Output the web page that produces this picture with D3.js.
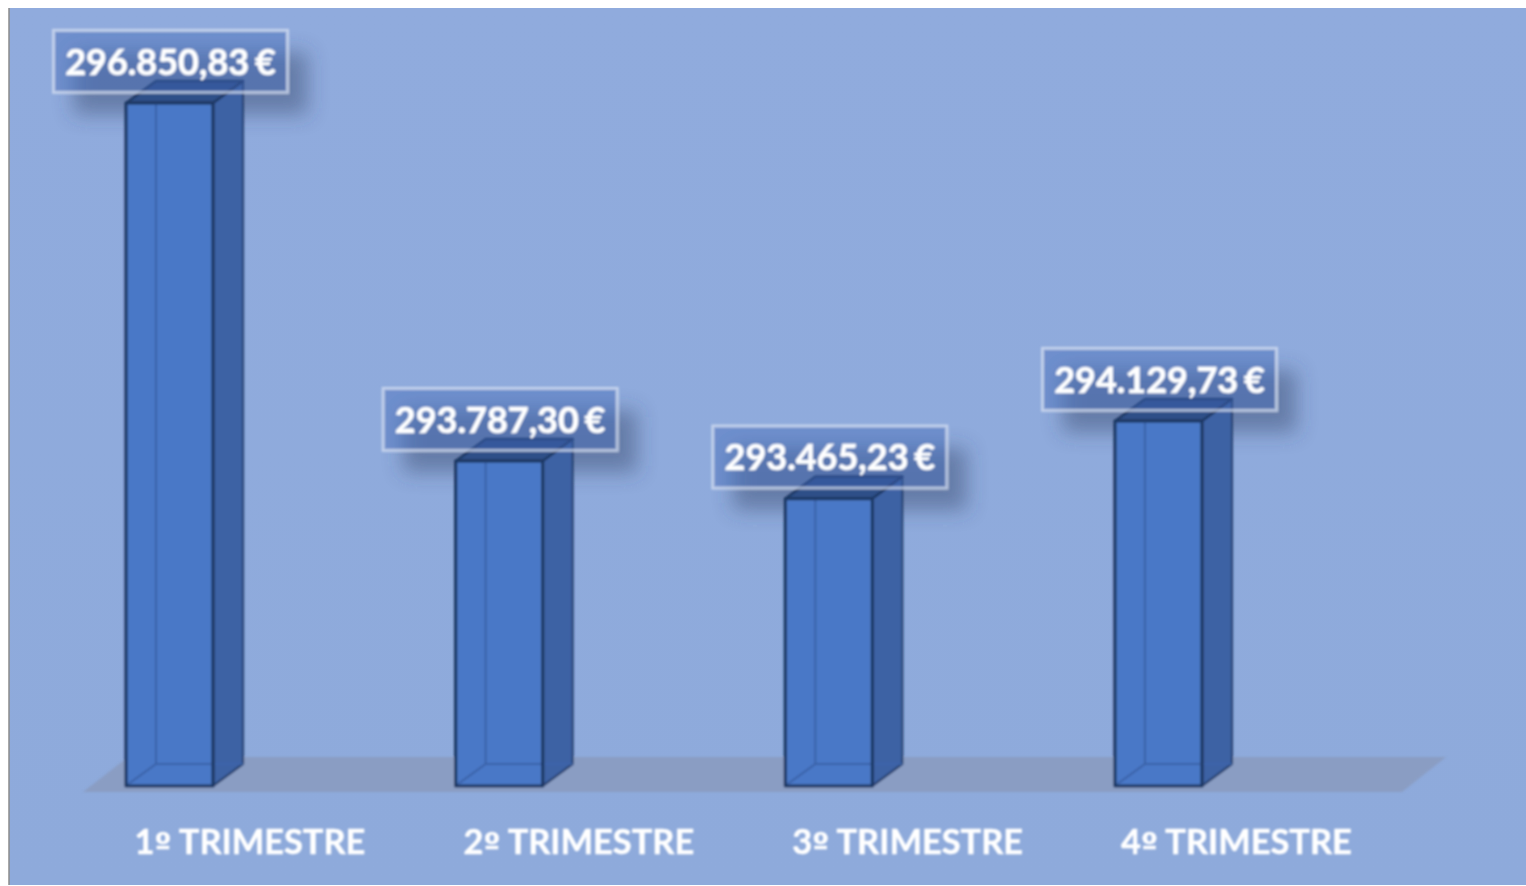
<!DOCTYPE html>
<html><head><meta charset="utf-8">
<script src="https://cdn.jsdelivr.net/npm/d3@7"></script>
<style>html,body{margin:0;padding:0;background:#fff;overflow:hidden}svg{display:block}</style>
</head><body><svg id="c" width="1526" height="886"></svg>
<script>
const categories = ["1º TRIMESTRE","2º TRIMESTRE","3º TRIMESTRE","4º TRIMESTRE"];
const values = [296850.83,293787.30,293465.23,294129.73];
const valueLabels = ["296.850,83 €","293.787,30 €","293.465,23 €","294.129,73 €"];

const svg = d3.select("#c");
const font = "Lato, 'Open Sans', sans-serif";
const defs = svg.append("defs");
const soft = defs.append("filter").attr("id","soft").attr("x","-2%").attr("y","-2%").attr("width","104%").attr("height","104%");
soft.append("feGaussianBlur").attr("stdDeviation",0.8);
const shadow = defs.append("filter").attr("id","shadow").attr("x","-30%").attr("y","-60%").attr("width","160%").attr("height","220%");
shadow.append("feGaussianBlur").attr("stdDeviation",10);
const bg = defs.append("linearGradient").attr("id","bg").attr("x1",0).attr("x2",0).attr("y1",0).attr("y2",1);
bg.append("stop").attr("offset",0).attr("stop-color","#90abdd");
bg.append("stop").attr("offset",1).attr("stop-color","#8eaadb");

svg.append("rect").attr("x",9).attr("y",8).attr("width",1517).attr("height",877).attr("fill","url(#bg)");
svg.append("line").attr("x1",9).attr("x2",9).attr("y1",8).attr("y2",885).attr("stroke","#8b8b8b").attr("stroke-width",1.5);
const root = svg.append("g").attr("filter","url(#soft)");

const y = d3.scaleLinear().domain([291000,297000]).range([786.7,85.5]);
const x = d3.scaleBand().domain(categories).range([126,1202]).paddingInner(0.736).paddingOuter(0);
const xLabels = d3.scalePoint().domain(categories).range([249.5,1236]);
const dx = 30, dy = 22;
const base = y.range()[0] - 0.7;
const w = x.bandwidth();

// floor
root.append("path").attr("d",d3.line()([
  [83, base+6],[1402, base+6],[1446, base-29],[128, base-29]
])+"Z").attr("fill","#8a9dc3");

const rows = categories.map((c,i)=>({c,v:values[i],t:valueLabels[i]}));
const boxW = 234, boxH = 62;
const boxX = d => x(d.c)+w/2-boxW/2+1;
const boxY = d => y(d.v)-72.6;

// label shadows
root.append("g").selectAll("rect").data(rows).join("rect")
  .attr("x",d=>boxX(d)+20).attr("y",d=>boxY(d)+22).attr("width",boxW).attr("height",boxH)
  .attr("fill","#3d4f74").attr("opacity",0.5).attr("filter","url(#shadow)");

// bars
const edge = "#1f3864";
const bars = root.append("g").selectAll("g").data(rows).join("g");
const P = (d,pts)=>d3.line()(pts.map(([a,b])=>[x(d.c)+a, b==="b"?base:(b==="bk"?base-dy:(b==="t"?y(d.v):y(d.v)-dy))]))+"Z";
bars.append("path").attr("d",d=>P(d,[[0,"t"],[w,"t"],[w,"b"],[0,"b"]])).attr("fill","#4a78c7");
bars.append("path").attr("d",d=>P(d,[[w,"t"],[w+dx,"tk"],[w+dx,"bk"],[w,"b"]]))
  .attr("fill","#3d62a4").attr("stroke",edge).attr("stroke-opacity",0.8).attr("stroke-width",2.2).attr("stroke-linejoin","round");
bars.append("path").attr("d",d=>P(d,[[0,"t"],[dx,"tk"],[w+dx,"tk"],[w,"t"]]))
  .attr("fill","#2f4f88").attr("stroke",edge).attr("stroke-opacity",1).attr("stroke-width",2.5).attr("stroke-linejoin","round");
// hidden edges
bars.append("path").attr("fill","none").attr("stroke","#3a62a8").attr("stroke-width",2)
  .attr("d",d=>{const l=x(d.c);const t=y(d.v);return `M${l+dx},${t}V${base-dy}M${l+1},${base-1}L${l+dx},${base-dy}H${l+w-1}`;});
bars.append("path").attr("fill","none").attr("stroke","#3d66ad").attr("stroke-width",1.5)
  .attr("d",d=>{const l=x(d.c);return `M${l+w},${base-dy}H${l+w+dx}`;});
bars.append("path").attr("d",d=>P(d,[[0,"t"],[w,"t"],[w,"b"],[0,"b"]]))
  .attr("fill","none").attr("stroke",edge).attr("stroke-width",3.2).attr("stroke-linejoin","round");

// value labels
const lab = root.append("g").selectAll("g").data(rows).join("g");
lab.append("rect").attr("x",boxX).attr("y",boxY).attr("width",boxW).attr("height",boxH)
  .attr("fill","#4069b8").attr("fill-opacity",0.42)
  .attr("stroke","#e3e9f6").attr("stroke-opacity",0.65).attr("stroke-width",3);
lab.append("text").attr("x",d=>boxX(d)+boxW/2).attr("y",d=>boxY(d)+44.5)
  .attr("text-anchor","middle").attr("fill","#fff").attr("stroke","#fff").attr("stroke-width",0.5)
  .attr("font-family",font).attr("font-weight",700)
  .attr("font-size",36).attr("word-spacing",-3).text(d=>d.t);

// category axis
const ax = root.append("g").attr("transform","translate(0,830)")
  .call(d3.axisBottom(xLabels).tickSize(0).tickPadding(0));
ax.select(".domain").remove();
ax.selectAll("text").attr("fill","#fff").attr("stroke","#fff").attr("stroke-width",0.5)
  .attr("font-family",font).attr("font-weight",700).attr("font-size",34.4)
  .attr("dy",0).attr("y",24)
  .each(function(d){
    const t = d3.select(this), i = d.indexOf("º");
    t.text(null);
    t.append("tspan").text(d.slice(0,i));
    t.append("tspan").attr("font-family","'DejaVu Sans'").attr("font-size",30).attr("font-weight",700).text("º");
    t.append("tspan").text(d.slice(i+1));
  });
</script></body></html>
